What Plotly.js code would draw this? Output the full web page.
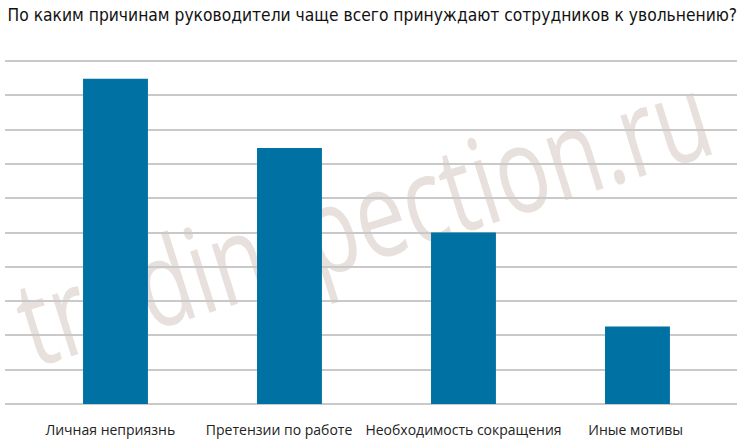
<!DOCTYPE html>
<html>
<head>
<meta charset="utf-8">
<script src="https://cdn.plot.ly/plotly-3.0.1.min.js"></script>
<style>
  html, body { margin: 0; padding: 0; background: #ffffff; }
  #wrap { position: relative; width: 750px; height: 442px; overflow: hidden; }
  #mark {
    position: absolute; left: 34px; top: 262px;
    font-family: "Open Sans", sans-serif; font-size: 120px; line-height: 120px; color: #e8e0dd;
    white-space: nowrap;
    transform-origin: 0 107px; transform: rotate(-17.5deg) scaleX(0.74);
  }
  #chart { position: absolute; left: 0; top: 0; width: 750px; height: 442px; }
</style>
</head>
<body>
<div id="wrap">
  <div id="mark">trudinspection.ru</div>
  <div id="chart"></div>
</div>
<script>
var titleText = "По каким причинам руководители чаще всего принуждают сотрудников к увольнению?";

reasons = ["Личная неприязнь", "Претензии по работе", "Необходимость сокращения", "Иные мотивы"];
shares = [47.4, 37.3, 25, 11.3];

// labels sit a little off the bar centres in the original
var labelShift = [-0.03, -0.06, 0, -0.01];
var barPos = reasons.map(function (r, i) { return i; });
var labelPos = barPos.map(function (p, i) { return p + labelShift[i]; });

var plotLayout = {
    width: 750,
    height: 442,
    margin: { l: 5, r: 13, t: 54, b: 38 },
    paper_bgcolor: "rgba(0,0,0,0)",
    plot_bgcolor: "rgba(0,0,0,0)",
    showlegend: false,
    title: {
        text: titleText,
        font: { family: "DejaVu Sans Condensed, sans-serif", size: 17.3, color: "#111111" },
        x: 0.01, xanchor: "left",
        y: 0.966, yanchor: "middle", yref: "container"
    },
    xaxis: {
        range: [-0.635, 3.572],
        tickmode: "array",
        tickvals: labelPos,
        ticktext: reasons,
        showgrid: false,
        zeroline: false,
        showline: false,
        ticks: "",
        ticklabelstandoff: 16,
        tickfont: { family: "Open Sans, sans-serif", size: 14, color: "#222222" }
    },
    yaxis: {
        range: [0, 51.02],
        dtick: 5,
        showticklabels: false,
        gridcolor: "#c9c9c9",
        gridwidth: 2,
        zeroline: true,
        zerolinecolor: "#c9c9c9",
        zerolinewidth: 2,
        showline: false
    }
};

chart = document.getElementById("chart");
Plotly.newPlot(chart, [{
    x: barPos,
    y: shares,
    type: "bar",
    width: 0.373,
    marker: { color: "#0071a3" },
    hoverinfo: "y"
}], plotLayout, { staticPlot: true });
</script>
</body>
</html>
